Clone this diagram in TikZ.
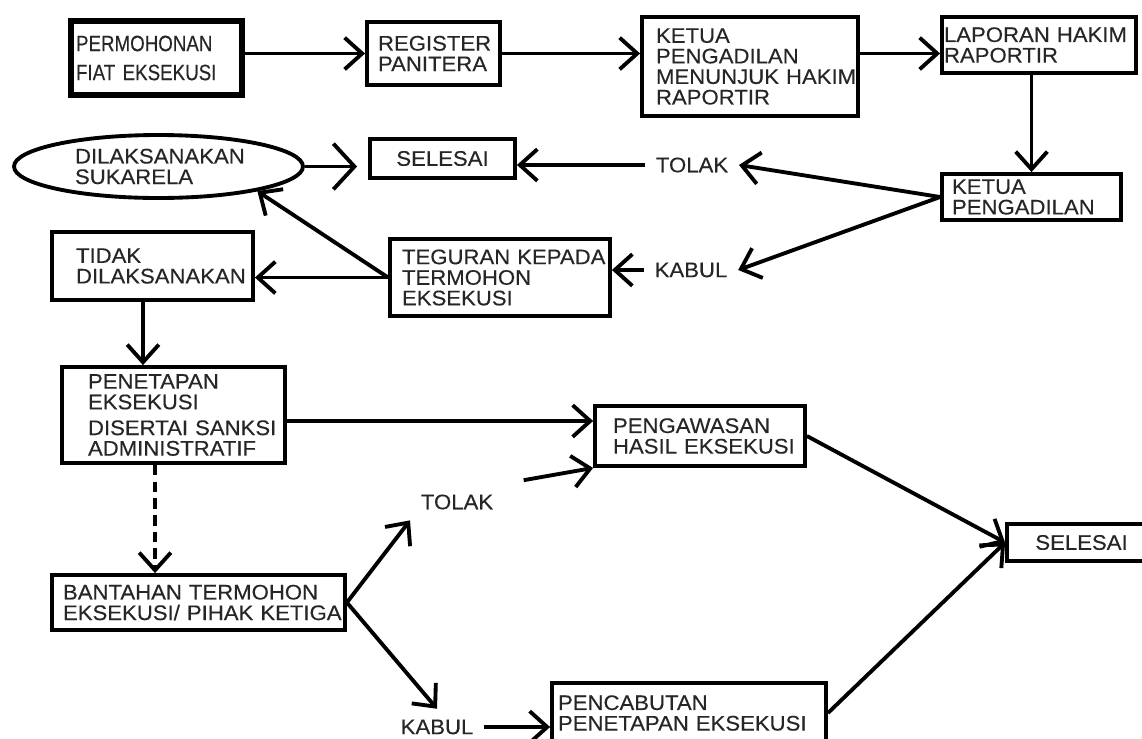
\documentclass[tikz,border=0pt]{standalone}
\usepackage{fontspec}
\setmainfont{Liberation Sans}[FakeStretch=1.05,FakeBold=0.3,HyphenChar=None]
\newfontfamily\narrowfont{Liberation Sans}[FakeStretch=0.84,FakeBold=0.3,HyphenChar=None]
\usepackage{tikz}
\usetikzlibrary{arrows.meta,positioning,shapes.geometric}

\begin{document}
\begin{tikzpicture}[x=0.02cm, y=-0.02cm,
    box/.style={draw, line width=2.2pt, align=left, inner sep=0pt,
        font=\fontsize{12}{11.7}\selectfont, text=black!85},
    lbl/.style={inner sep=6pt, font=\fontsize{12}{11.7}\selectfont, text=black!85},
    arr/.style={line width=2.2pt, -{Straight Barb[length=10pt,width=18pt]}},
    arrbig/.style={line width=2.2pt, -{Straight Barb[length=12pt,width=26pt]}}]
    \useasboundingbox (0,0) rectangle (1142,738);

    % Top row
    \node[box, line width=3.4pt, font=\narrowfont\fontsize{12.7}{16.5}\selectfont,
        minimum width=3.42cm, minimum height=1.48cm, text width=3.22cm]
        (perm) at (156.5,58) {PERMOHONAN\\FIAT~EKSEKUSI};
    \node[box, minimum width=2.66cm, minimum height=1.26cm, text width=2.22cm]
        (reg) at (433.5,53.5) {REGISTER\\PANITERA};
    \node[box, minimum width=4.32cm, minimum height=1.98cm, text width=3.76cm]
        (kpm) at (750,66.5) {KETUA\\PENGADILAN\\MENUNJUK~HAKIM\\RAPORTIR};
    \node[box, minimum width=3.88cm, minimum height=1.12cm, text width=3.8cm]
        (lap) at (1039,45) {LAPORAN~HAKIM\\RAPORTIR};

    % Second and third rows
    \node[box, minimum width=3.58cm, minimum height=0.92cm, text width=3.18cm]
        (kp) at (1031.5,197) {KETUA\\PENGADILAN};
    \node[box, align=center, minimum width=2.9cm, minimum height=0.78cm]
        (sel1) at (442.5,158.5) {SELESAI};
    \node[box, ellipse, minimum width=5.78cm, minimum height=1.26cm, text width=3.34cm]
        (suka) at (158.5,166.5) {DILAKSANAKAN\\SUKARELA};
    \node[box, minimum width=4.02cm, minimum height=1.36cm, text width=3.06cm]
        (tidak) at (152.5,266) {TIDAK\\DILAKSANAKAN};
    \node[box, minimum width=4.4cm, minimum height=1.54cm, text width=3.92cm]
        (tegur) at (500,277.5) {TEGURAN~KEPADA\\TERMOHON\\EKSEKUSI};

    % Lower part
    \node[box, minimum width=4.46cm, minimum height=1.92cm, text width=3.42cm]
        (tetap) at (173.5,415) {PENETAPAN\\EKSEKUSI\\[3pt]DISERTAI~SANKSI\\ADMINISTRATIF};
    \node[box, minimum width=5.86cm, minimum height=1.1cm, text width=5.42cm]
        (bantah) at (198.5,602.5) {BANTAHAN~TERMOHON\\EKSEKUSI/~PIHAK~KETIGA};
    \node[box, minimum width=4.2cm, minimum height=1.2cm, text width=3.48cm]
        (awas) at (700,436) {PENGAWASAN\\HASIL~EKSEKUSI};
    \node[box, align=center, minimum width=2.98cm, minimum height=0.74cm]
        (sel2) at (1081.5,542.5) {SELESAI};
    \node[box, minimum width=5.48cm, minimum height=1.2cm, text width=5.24cm]
        (cabut) at (689,713) {PENCABUTAN\\PENETAPAN~EKSEKUSI};

    % Decisions
    \node[lbl] (tolaka) at (692,165) {TOLAK};
    \node[lbl] (kabula) at (691,270) {KABUL};
    \node[lbl] (tolakb) at (457,502) {TOLAK};
    \node[lbl] (kabulb) at (437,727) {KABUL};

    % Arrows
    \draw[arr] (perm.east |- reg.west) -- (reg.west);
    \draw[arr] (reg.east) -- (reg.east -| kpm.west);
    \draw[arr] (kpm.east |- reg.east) -- (lap.west |- reg.east);
    \draw[arr] (kp.north |- lap.south) -- (kp.north);
    \draw[arr] (kp.west) -- (tolaka.east);
    \draw[arr] (kp.west) -- (kabula.east);
    \draw[arr] (tolaka.west) -- (tolaka.west -| sel1.east);
    \draw[arr] (kabula.west) -- (kabula.west -| tegur.east);
    \draw[arrbig, shorten >=0.22cm] (suka.east) -- (suka.east -| sel1.west);
    \draw[arr] (tegur.west) -- (tegur.west -| tidak.east);
    \draw[arr] (tegur.west) -- (suka.-14);
    \draw[arr] ([xshift=-0.19cm]tidak.south) -- ([xshift=-0.19cm]tidak.south |- tetap.north);
    \draw[arr] ([yshift=-0.12cm]tetap.east) -- ([yshift=-0.12cm]tetap.east -| awas.west);
    \draw[arr, dash pattern=on 6pt off 3.5pt]
        ([xshift=-0.37cm]tetap.south) -- ([xshift=-0.37cm]tetap.south |- bantah.north);
    \draw[arr] (bantah.east) -- (tolakb.south west);
    \draw[arr] (bantah.east) -- (kabulb.north);
    \draw[arr] (kabulb.east) -- (kabulb.east -| cabut.west);
    \draw[arr, shorten <=0.4cm] (tolakb.north east) -- (awas.south west);
    \draw[arr] (awas.east) -- (sel2.west);
    \draw[arr] (cabut.east) -- (sel2.west);
\end{tikzpicture}
\end{document}
